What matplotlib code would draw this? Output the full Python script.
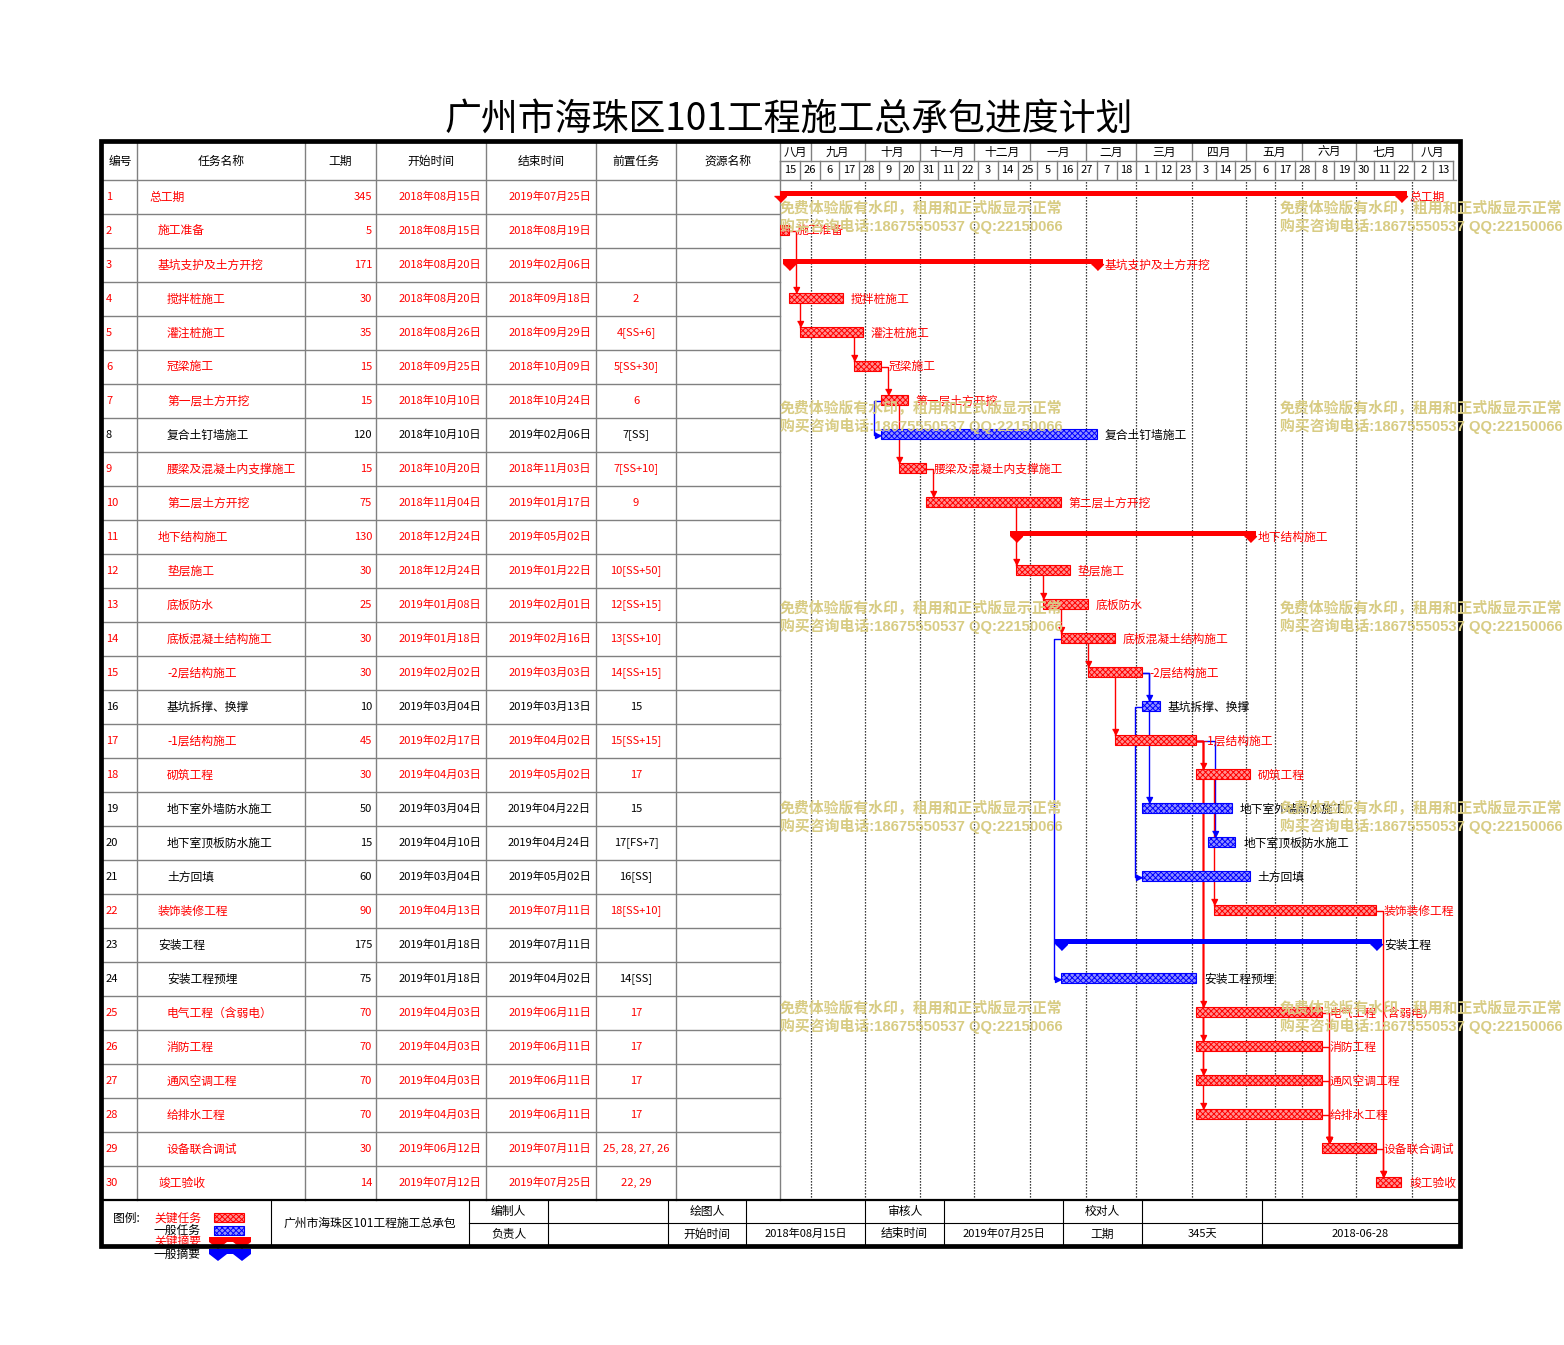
import re
import numpy as np
import pandas as pd
import matplotlib
matplotlib.use('Agg')
import matplotlib.pyplot as plt
import matplotlib.dates as mdates
from matplotlib.patches import Rectangle, Polygon

plt.rcParams['font.family'] = ['Noto Sans CJK SC', 'DejaVu Sans']
plt.rcParams['hatch.linewidth'] = 0.7

# ---- data ----
title = '广州市海珠区101工程施工总承包进度计划'
headers = ['编号', '任务名称', '工期', '开始时间', '结束时间', '前置任务', '资源名称']
names = ['总工期', '施工准备', '基坑支护及土方开挖', '搅拌桩施工', '灌注桩施工', '冠梁施工',
         '第一层土方开挖', '复合土钉墙施工', '腰梁及混凝土内支撑施工', '第二层土方开挖',
         '地下结构施工', '垫层施工', '底板防水', '底板混凝土结构施工', '-2层结构施工',
         '基坑拆撑、换撑', '-1层结构施工', '砌筑工程', '地下室外墙防水施工', '地下室顶板防水施工',
         '土方回填', '装饰装修工程', '安装工程', '安装工程预埋', '电气工程（含弱电）',
         '消防工程', '通风空调工程', '给排水工程', '设备联合调试', '竣工验收']
levels = [0, 1, 1, 2, 2, 2, 2, 2, 2, 2, 1, 2, 2, 2, 2, 2, 2, 2, 2, 2, 2, 1, 1, 2, 2, 2, 2, 2, 2, 1]
durations = [345, 5, 171, 30, 35, 15, 15, 120, 15, 75, 130, 30, 25, 30, 30, 10, 45, 30, 50, 15,
             60, 90, 175, 75, 70, 70, 70, 70, 30, 14]
starts = ['2018-08-15', '2018-08-15', '2018-08-20', '2018-08-20', '2018-08-26', '2018-09-25',
          '2018-10-10', '2018-10-10', '2018-10-20', '2018-11-04', '2018-12-24', '2018-12-24',
          '2019-01-08', '2019-01-18', '2019-02-02', '2019-03-04', '2019-02-17', '2019-04-03',
          '2019-03-04', '2019-04-10', '2019-03-04', '2019-04-13', '2019-01-18', '2019-01-18',
          '2019-04-03', '2019-04-03', '2019-04-03', '2019-04-03', '2019-06-12', '2019-07-12']
ends = ['2019-07-25', '2018-08-19', '2019-02-06', '2018-09-18', '2018-09-29', '2018-10-09',
        '2018-10-24', '2019-02-06', '2018-11-03', '2019-01-17', '2019-05-02', '2019-01-22',
        '2019-02-01', '2019-02-16', '2019-03-03', '2019-03-13', '2019-04-02', '2019-05-02',
        '2019-04-22', '2019-04-24', '2019-05-02', '2019-07-11', '2019-07-11', '2019-04-02',
        '2019-06-11', '2019-06-11', '2019-06-11', '2019-06-11', '2019-07-11', '2019-07-25']
preds = ['', '', '', '2', '4[SS+6]', '5[SS+30]', '6', '7[SS]', '7[SS+10]', '9', '', '10[SS+50]',
         '12[SS+15]', '13[SS+10]', '14[SS+15]', '15', '15[SS+15]', '17', '15', '17[FS+7]',
         '16[SS]', '18[SS+10]', '', '14[SS]', '17', '17', '17', '17', '25, 28, 27, 26', '22, 29']
general = [8, 16, 19, 20, 21, 23, 24]
summaries = [1, 3, 11, 23]

month_names = ['八月', '九月', '十月', '十一月', '十二月', '一月', '二月', '三月', '四月',
               '五月', '六月', '七月', '八月']
day_ticks = pd.date_range('2018-08-15', periods=35, freq='11D')
month_starts = pd.date_range('2018-09-01', '2019-08-01', freq='MS')
grid_dates = list(month_starts) + [pd.Timestamp('2019-05-17')]

footer_top = [('编制人', ''), ('绘图人', ''), ('审核人', ''), ('校对人', ''), ('', '')]
footer_bot = [('负责人', ''), ('开始时间', '2018年08月15日'), ('结束时间', '2019年07月25日'),
              ('工期', '345天'), ('', '2018-06-28')]
wm1 = '免费体验版有水印，租用和正式版显示正常'
wm2 = '购买咨询电话:18675550537 QQ:22150066'

RED, BLUE, GRAY = '#ff0000', '#0000ff', '#808080'
W, H = 1564, 1345
PXD = 1.8           # pixels per day
SPAN = 374
ROW0, ROWH = 180, 34
GX0 = 780
GX1 = GX0 + SPAN * PXD
FS_CJK = 8.5
FS_NUM = 8

fig = plt.figure(figsize=(W / 100, H / 100), dpi=100)


def fax(x0, y0, x1, y1):
    return [x0 / W, 1 - y1 / H, (x1 - x0) / W, (y1 - y0) / H]


ov = fig.add_axes([0, 0, 1, 1])
ov.set_xlim(0, W); ov.set_ylim(H, 0); ov.axis('off')

T0 = mdates.date2num(pd.Timestamp('2018-08-15'))
xs = np.array([mdates.date2num(pd.Timestamp(s)) for s in starts])
xe = np.array([mdates.date2num(pd.Timestamp(e)) + 1 for e in ends])
crit = [(i + 1) not in general for i in range(30)]

# ---- title ----
ov.text(789, 119, title, fontsize=26.6, ha='center', va='center', color='black')

# ---- table ----
col_x = [103, 137, 305, 376, 486, 596, 676, 780]
for x in col_x[1:]:
    ov.plot([x, x], [143, 1200], color=GRAY, lw=1)
for k in range(1, 30):
    y = ROW0 + k * ROWH
    ov.plot([103, 780], [y, y], color=GRAY, lw=1)
ov.plot([103, 1456], [ROW0, ROW0], color=GRAY, lw=1)
for j, h in enumerate(headers):
    ov.text((col_x[j] + col_x[j + 1]) / 2, 161.5, h, fontsize=FS_CJK, ha='center', va='center')

for i in range(30):
    yc = ROW0 + ROWH * (i + 0.5)
    c = RED if crit[i] else 'black'
    ov.text(106, yc, str(i + 1), fontsize=FS_NUM, ha='left', va='center', color=c)
    ov.text(149 + 9 * levels[i], yc, names[i], fontsize=FS_CJK, ha='left', va='center', color=c)
    ov.text(372, yc, str(durations[i]), fontsize=FS_NUM, ha='right', va='center', color=c)
    ov.text(481, yc, pd.Timestamp(starts[i]).strftime('%Y年%m月%d日'), fontsize=FS_NUM,
            ha='right', va='center', color=c)
    ov.text(591, yc, pd.Timestamp(ends[i]).strftime('%Y年%m月%d日'), fontsize=FS_NUM,
            ha='right', va='center', color=c)
    ov.text(636, yc, preds[i], fontsize=FS_NUM, ha='center', va='center', color=c)

# ---- footer ----
ov.plot([103, 1458], [1200, 1200], color='black', lw=1.6)
ov.plot([469, 1458], [1222.5, 1222.5], color='black', lw=0.8)
fx = [271, 469, 548, 668, 746, 865, 944, 1063, 1142, 1262, 1458]
for x in fx[:-1]:
    ov.plot([x, x], [1200, 1244], color='black', lw=0.8)
ov.text(370, 1223, '广州市海珠区101工程施工总承包', fontsize=FS_CJK, ha='center', va='center')
for k in range(5):
    a, b = 1 + 2 * k, 2 + 2 * k
    if k < 4:
        ov.text((fx[a] + fx[a + 1]) / 2, 1211, footer_top[k][0], fontsize=FS_CJK, ha='center', va='center')
        ov.text((fx[a] + fx[a + 1]) / 2, 1234, footer_bot[k][0], fontsize=FS_CJK, ha='center', va='center')
        ov.text((fx[b] + fx[b + 1]) / 2, 1234, footer_bot[k][1], fontsize=FS_NUM, ha='center', va='center')
    else:
        ov.text((fx[9] + fx[10]) / 2, 1234, footer_bot[k][1], fontsize=FS_NUM, ha='center', va='center')

ov.text(113, 1218, '图例:', fontsize=FS_CJK, ha='left', va='center')
ov.text(154, 1218, '关键任务', fontsize=FS_CJK, ha='left', va='center', color=RED)
ov.text(154, 1230, '一般任务', fontsize=FS_CJK, ha='left', va='center', color='black')
ov.text(154, 1241, '关键摘要', fontsize=FS_CJK, ha='left', va='center', color=RED)
ov.text(154, 1254, '一般摘要', fontsize=FS_CJK, ha='left', va='center', color='black')
ov.add_patch(Rectangle((214, 1213), 30, 9, facecolor='#ff9090', edgecolor=RED, hatch='xxxxxx', lw=0.8))
ov.add_patch(Rectangle((214, 1226), 30, 9, facecolor='#9090ff', edgecolor=BLUE, hatch='xxxxxx', lw=0.8))
for y0, c in [(1237, RED), (1249, BLUE)]:
    ov.add_patch(Rectangle((209, y0), 42, 5, facecolor=c, edgecolor='none'))
    ov.add_patch(Polygon([(209, y0 + 5), (227, y0 + 5), (218, y0 + 12)], facecolor=c, edgecolor='none'))
    ov.add_patch(Polygon([(233, y0 + 5), (251, y0 + 5), (242, y0 + 12)], facecolor=c, edgecolor='none'))

# ---- timeline header ----
hx = fig.add_axes(fax(GX0, 143, GX1, 179))
hx.set_xlim(T0, T0 + SPAN); hx.set_ylim(2, 0); hx.axis('off')
hx.plot([T0, T0 + SPAN], [1, 1], color=GRAY, lw=1, clip_on=False)
for d in day_ticks:
    x = mdates.date2num(d)
    hx.plot([x, x], [1, 2], color=GRAY, lw=1, clip_on=False)
for d in day_ticks[:-1]:
    x = mdates.date2num(d)
    hx.text(x + 5.5, 1.5, str(d.day), fontsize=FS_NUM, ha='center', va='center')
bounds = [T0] + [mdates.date2num(m) for m in month_starts] + [T0 + SPAN]
for k, m in enumerate(month_names):
    if k > 0:
        hx.plot([bounds[k], bounds[k]], [0, 1], color=GRAY, lw=1)
    hx.text((bounds[k] + bounds[k + 1]) / 2, 0.5, m, fontsize=FS_CJK, ha='center', va='center')

# ---- gantt ----
gx = fig.add_axes(fax(GX0, ROW0, GX1, ROW0 + 30 * ROWH))
gx.set_xlim(T0, T0 + SPAN); gx.set_ylim(30.5, 0.5); gx.axis('off')
for d in grid_dates:
    gx.axvline(mdates.date2num(d), color='black', lw=0.9, ls=(0, (1, 1.4)), zorder=1)

tri = [(-1, 0), (1, 0), (0, -1)]
arr_dn = [(-1, 2), (1, 2), (0, 0)]
arr_rt = [(-2, 1), (-2, -1), (0, 0)]
pad = 6 / PXD
off = 7 / PXD
BAR_TOP, BAR_BOT = -0.175, 0.118

for i in range(30):
    r = i + 1
    c = RED if crit[i] else BLUE
    tc = RED if crit[i] else 'black'
    if r in summaries:
        gx.barh(r - 0.108, xe[i] - xs[i] + 2 * pad, left=xs[i] - pad, height=0.16,
                color=c, zorder=3)
        gx.plot([xs[i], xe[i]], [r - 0.03, r - 0.03], ls='none', marker=tri, ms=8.6,
                color=c, zorder=3, clip_on=False)
    else:
        gx.barh(r - 0.03, xe[i] - xs[i], left=xs[i], height=0.29,
                facecolor='#ff9090' if crit[i] else '#9090ff', edgecolor=c,
                hatch='xxxxxx', lw=0.8, zorder=3)
    gx.annotate(names[i], (xe[i], r), xytext=(5.8, 0), textcoords='offset points',
                fontsize=FS_CJK, color=tc, ha='left', va='center', zorder=4)


def parse(s):
    out = []
    for part in s.split(','):
        part = part.strip()
        if not part:
            continue
        m = re.match(r'(\d+)(?:\[(SS|FS)([+-]\d+)?\])?', part)
        out.append((int(m.group(1)), m.group(2) or 'FS', int(m.group(3) or 0)))
    return out


for i in range(30):
    s = i + 1
    c = RED if crit[i] else BLUE
    for p, kind, lag in parse(preds[i]):
        pi = p - 1
        if kind == 'FS':
            xv = xs[i] + off
            gx.plot([xe[pi], xv, xv], [p, p, s + BAR_TOP], color=c, lw=1, zorder=2)
            gx.plot([xv], [s + BAR_TOP], marker=arr_dn, ms=8.6, color=c, zorder=4)
        elif lag > 0:
            xv = xs[i]
            gx.plot([xv, xv], [p + BAR_BOT, s + BAR_TOP], color=c, lw=1, zorder=2)
            gx.plot([xv], [s + BAR_TOP], marker=arr_dn, ms=8.6, color=c, zorder=4)
        else:
            xv = xs[pi] - off
            gx.plot([xs[pi], xv, xv, xs[i]], [p, p, s, s], color=c, lw=1, zorder=2)
            gx.plot([xs[i]], [s], marker=arr_rt, ms=8.6, color=c, zorder=4)

# ---- top layer: watermark and border ----
top = fig.add_axes([0, 0, 1, 1], zorder=10)
top.set_xlim(0, W); top.set_ylim(H, 0); top.axis('off')
for k in range(5):
    for x0 in [780, 1280]:
        top.text(x0, 208 + 200 * k, wm1, fontsize=10.7, fontweight='bold', color='#d8cc84',
                 ha='left', va='center')
        top.text(x0, 226 + 200 * k, wm2, fontsize=10.7, fontweight='bold', color='#d8cc84',
                 ha='left', va='center', family=['Liberation Sans', 'Noto Sans CJK SC'])
top.add_patch(Rectangle((101, 141), 1459.5 - 101, 1246 - 141, fill=False, edgecolor='black', lw=3.4))

fig.savefig('out.png', dpi=100)
